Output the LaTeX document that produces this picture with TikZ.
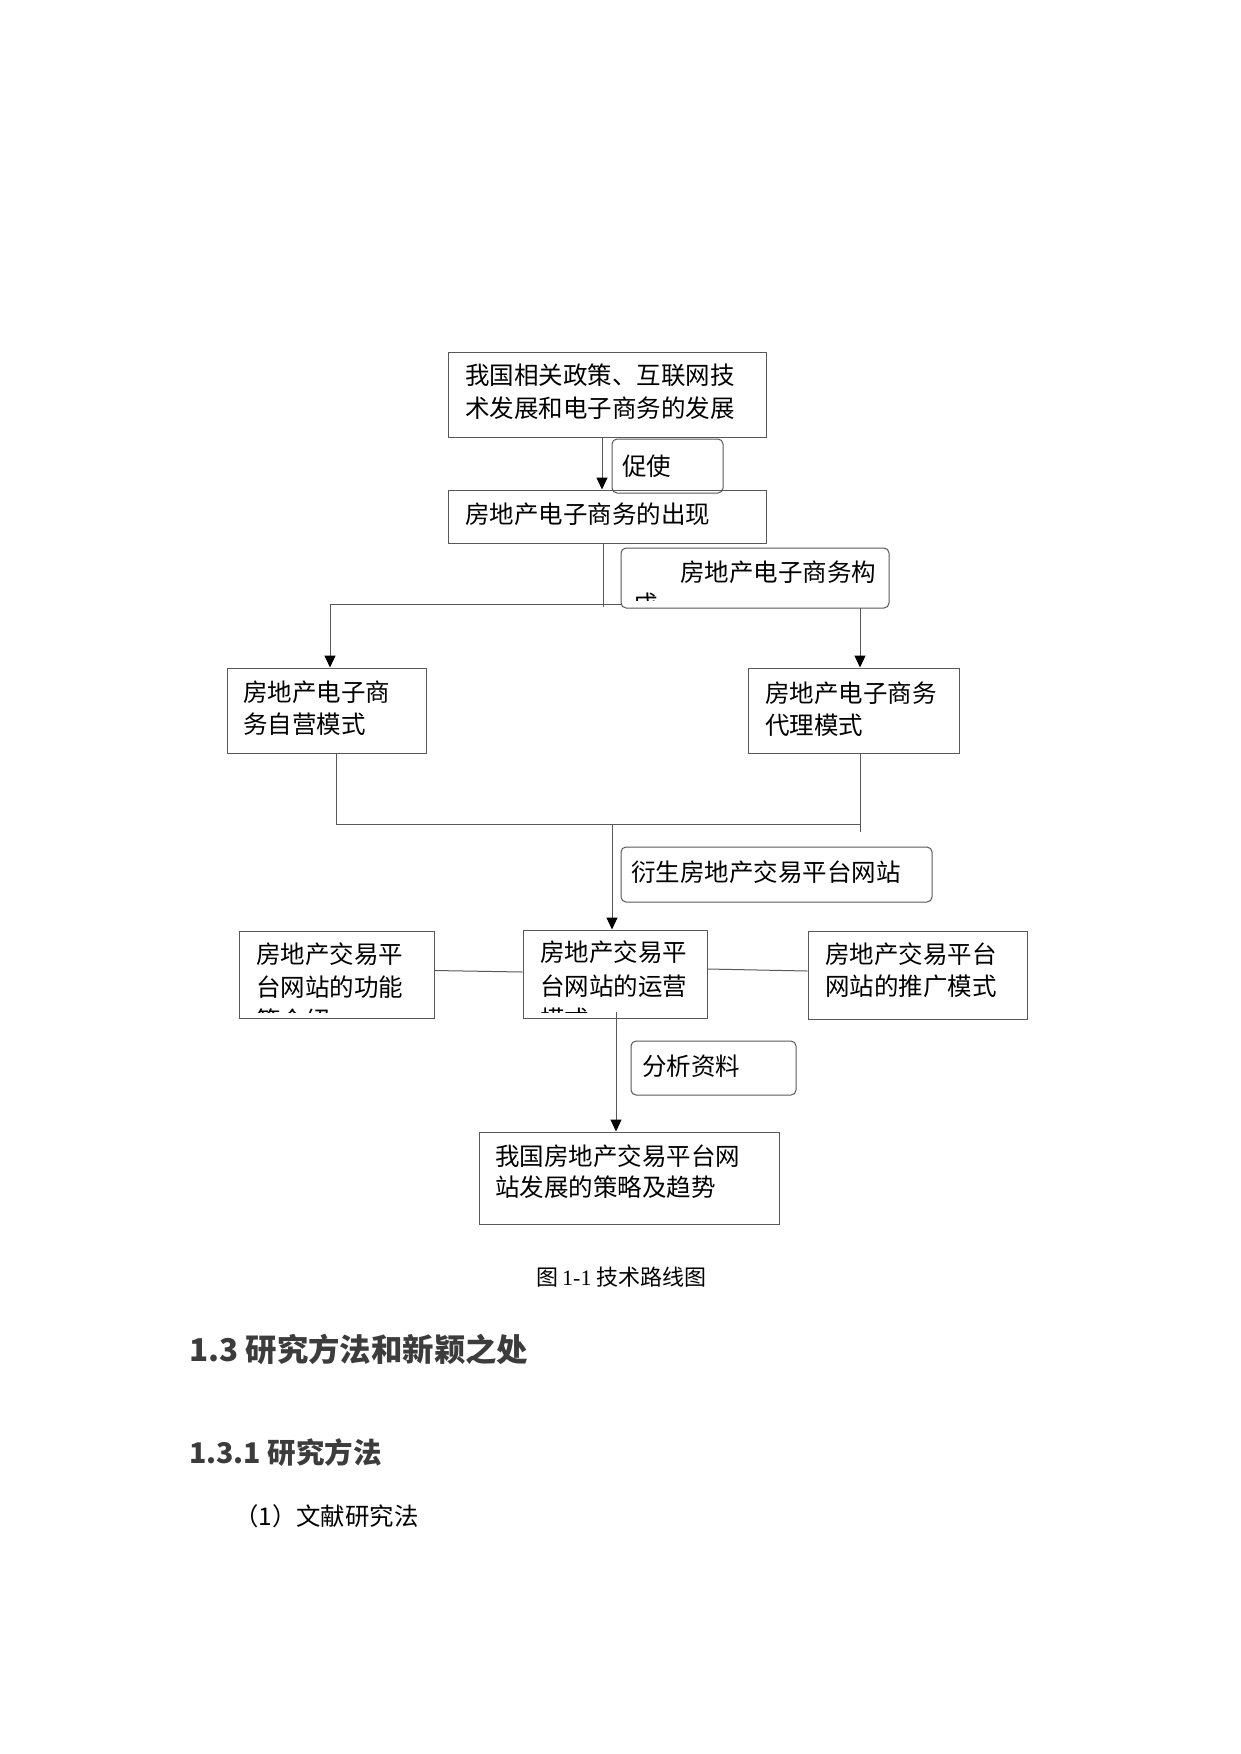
\documentclass[tikz,border=0pt]{standalone}
\usepackage{fontspec}
\setmainfont{Noto Sans CJK SC}
\newfontfamily\serifnum{Liberation Serif}
\usetikzlibrary{arrows.meta}
\definecolor{edge}{RGB}{88,88,88}
\definecolor{headc}{RGB}{60,60,60}
\tikzset{
  box/.style={draw=edge, line width=1pt, inner sep=0pt},
  rbox/.style={box, rounded corners=5pt},
  txt/.style={anchor=base west, inner sep=0pt, font=\fontsize{24.5}{24.5}\selectfont},
  conn/.style={draw=edge, line width=1pt},
  arr/.style={conn, -{Triangle[length=12pt,width=11pt,fill=black,color=black]}},
}
\begin{document}
\begin{tikzpicture}[x=1pt,y=-1pt]
\useasboundingbox (0,0) rectangle (1240,1754);
\fill[white] (0,0) rectangle (1240,1754);

% boxes
\node[box,  minimum width=318, minimum height=85] (b1) at (607,394.5) {};
\node[rbox, minimum width=111, minimum height=54] (cu) at (667.5,466) {};
\node[box,  minimum width=318, minimum height=53] (b2) at (607,516.5) {};
\node[rbox, minimum width=268, minimum height=60] (gc) at (755,578) {};
\node[box,  minimum width=199, minimum height=85] (bl) at (326.5,710.5) {};
\node[box,  minimum width=211, minimum height=85] (br) at (853.5,710.5) {};
\node[rbox, minimum width=311, minimum height=55] (ys) at (776.5,874.5) {};
\node[box,  minimum width=195, minimum height=87] (ml) at (336.5,974.5) {};
\node[box,  minimum width=184, minimum height=88] (mc) at (615,974) {};
\node[box,  minimum width=219, minimum height=88] (mr) at (917.5,975) {};
\node[rbox, minimum width=165, minimum height=54] (fx) at (713.5,1068) {};
\node[box,  minimum width=300, minimum height=92] (bt) at (629,1178) {};

% box texts
\node[txt] (b1a) at (465,384) {我国相关政策、互联网技};
\node[txt] (b1b) at (465,417) {术发展和电子商务的发展};
\node[txt] (cua) at (622,475) {促使};
\node[txt] (b2a) at (465,523) {房地产电子商务的出现};
\node[txt] (gca) at (680,581) {房地产电子商务构};
\begin{scope}
  \clip (622,549) rectangle (888,600);
  \node[txt] (gcb) at (633,613) {成};
\end{scope}
\node[txt] (bla) at (243,701) {房地产电子商};
\node[txt] (blb) at (243,733) {务自营模式};
\node[txt] (bra) at (765,702) {房地产电子商务};
\node[txt] (brb) at (765,734) {代理模式};
\node[txt] (ysa) at (631,881) {衍生房地产交易平台网站};
\node[txt] (mla) at (256,963) {房地产交易平};
\node[txt] (mlb) at (256,996) {台网站的功能};
\begin{scope}
  \clip (240,932) rectangle (433,1012);
  \node[txt] (mlc) at (256,1029) {等介绍};
\end{scope}
\node[txt] (mca) at (540,961) {房地产交易平};
\node[txt] (mcb) at (540,995) {台网站的运营};
\begin{scope}
  \clip (524,931) rectangle (706,1012);
  \node[txt] (mcc) at (540,1028) {模式};
\end{scope}
\node[txt] (mra) at (825,963) {房地产交易平台};
\node[txt] (mrb) at (825,995) {网站的推广模式};
\node[txt] (fxa) at (642,1075) {分析资料};
\node[txt] (bta) at (495,1165) {我国房地产交易平台网};
\node[txt] (btb) at (495,1196) {站发展的策略及趋势};

% connectors
\coordinate (c1) at (602,0);
\draw[arr] (b1.south -| c1) -- (b2.north -| c1);
\coordinate (sp) at (603,604);
\coordinate (sp2) at (603,607);
\draw[conn] (b2.south -| sp) -- (sp2);
\coordinate (la) at (330,604);
\draw[arr] (gc.west |- la) -- (la) -- (la |- bl.north);
\coordinate (ra) at (860,608);
\draw[arr] (ra) -- (ra |- br.north);
\coordinate (ml1) at (336,824);
\coordinate (mr1) at (860,824);
\coordinate (mr2) at (860,832);
\draw[conn] (bl.south -| ml1) -- (ml1) -- (mr1);
\draw[conn] (br.south -| mr1) -- (mr2);
\coordinate (dv) at (612,824);
\draw[arr] (dv) -- (dv |- mc.north);
\draw[conn] ([yshift=4pt]ml.east) -- ([yshift=2pt]mc.west);
\draw[conn] ([yshift=5pt]mc.east) -- ([yshift=4pt]mr.west);
\coordinate (bv) at (616,1012);
\draw[arr] (bv) -- (bv |- bt.north);

% caption and following text
\node[anchor=base west, inner sep=0pt, font=\fontsize{22}{22}\selectfont] (cap) at (536,1285)
  {图\hspace{4pt}{\serifnum 1-1}\hspace{5pt}技术路线图};
\node[anchor=base west, inner sep=0pt, text=headc, font=\fontsize{31.4}{31.4}\bfseries\selectfont] (h1) at (189,1361)
  {1.3 研究方法和新颖之处};
\node[anchor=base west, inner sep=0pt, text=headc, font=\fontsize{28.5}{28.5}\bfseries\selectfont] (h2) at (189,1463)
  {1.3.1 研究方法};
\node[anchor=base west, inner sep=0pt, font=\fontsize{24.4}{24.4}\selectfont] (it) at (234,1525)
  {（1）文献研究法};
\end{tikzpicture}
\end{document}
